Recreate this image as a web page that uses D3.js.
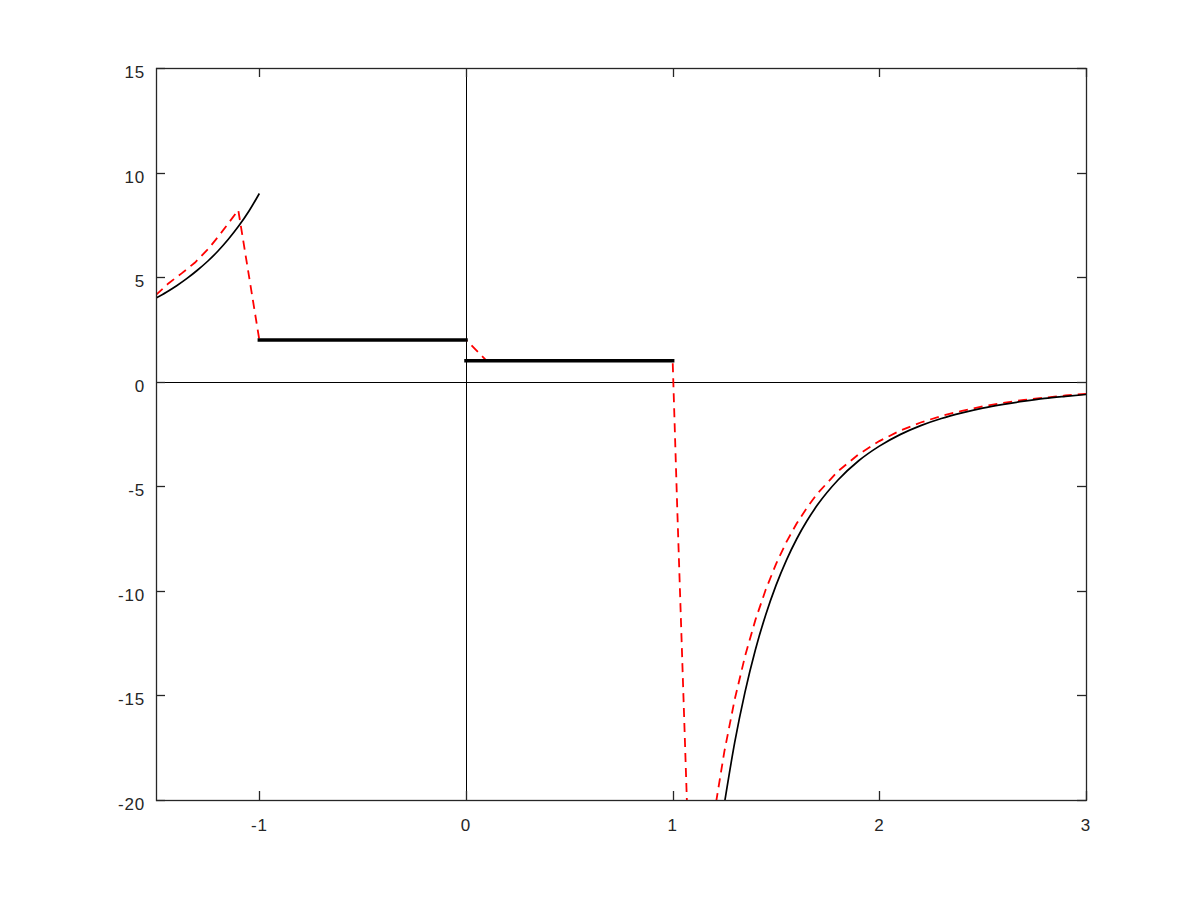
<!DOCTYPE html>
<html>
<head>
<meta charset="utf-8">
<script src="https://cdn.jsdelivr.net/npm/d3@7"></script>
<style>
  html, body { margin: 0; padding: 0; background: #fff; }
  svg { display: block; }
  text { font-family: "Liberation Sans", Arial, Helvetica, sans-serif; }
</style>
</head>
<body>
<div id="chart"></div>
<script>
// ---- data ----
const xDomain = [-1.5, 3];
const yDomain = [-20, 15];
const xTicks = [-1, 0, 1, 2, 3];
const yTicks = [-20, -15, -10, -5, 0, 5, 10, 15];

// exact function, left branch (x < -1)
const blackLeftX = [-1.5, -1.45, -1.4, -1.35, -1.3, -1.25, -1.2, -1.15, -1.1, -1.05, -1.0];
const blackLeftY = [4.00, 4.28, 4.59, 4.94, 5.33, 5.76, 6.25, 6.81, 7.44, 8.16, 9.0];

// exact function, constant pieces
const stepX0 = [-1, 0];
const stepX1 = [0, 1];
const stepY = [2, 1];

// exact function, right branch (x > 1)
const blackRightX = [1.25, 1.30, 1.35, 1.40, 1.45, 1.50, 1.55, 1.60, 1.65, 1.70, 1.80, 1.90,
                     2.00, 2.10, 2.20, 2.30, 2.40, 2.50, 2.60, 2.70, 2.80, 2.90, 3.00];
const blackRightY = [-20.19, -17.26, -14.84, -12.83, -11.15, -9.74, -8.54, -7.52, -6.65, -5.90, -4.70, -3.78,
                     -3.08, -2.53, -2.10, -1.76, -1.49, -1.26, -1.08, -0.93, -0.80, -0.70, -0.61];

// approximation (red dashed): left, steps, drop, right branch
const redX = [-1.5, -1.440, -1.376, -1.311, -1.247, -1.199, -1.150, -1.102, -1.0,
              0, 0.1, 1.0, 1.022, 1.09, 1.15,
              1.20, 1.25, 1.30, 1.35, 1.40, 1.45, 1.50, 1.55, 1.60, 1.65, 1.70, 1.80, 1.90,
              2.00, 2.10, 2.20, 2.30, 2.40, 2.50, 2.60, 2.70, 2.80, 2.90, 3.00];
const redY = [4.15, 4.70, 5.18, 5.70, 6.35, 6.94, 7.57, 8.21, 2.0,
              2.0, 1.0, 1.0, -6.0, -26.4, -23.5,
              -20.72, -17.69, -15.20, -13.13, -11.40, -9.95, -8.72, -7.67, -6.78, -6.02, -5.35, -4.28, -3.47,
              -2.84, -2.34, -1.95, -1.64, -1.39, -1.18, -1.01, -0.87, -0.76, -0.66, -0.58];

// ---- layout ----
const W = 1200, H = 898;
const margin = { left: 156, top: 68, right: 114, bottom: 98 };
const iw = W - margin.left - margin.right;
const ih = H - margin.top - margin.bottom;
const axisColor = "#262626";
const tickLen = 9;
const fontSize = 17;

const svg = d3.select("#chart").append("svg").attr("width", W).attr("height", H);
const g = svg.append("g").attr("transform", `translate(${margin.left},${margin.top})`);

const x = d3.scaleLinear().domain(xDomain).range([0, iw]);
const y = d3.scaleLinear().domain(yDomain).range([ih, 0]);

svg.append("defs").append("clipPath").attr("id", "clip")
  .append("rect").attr("x", 0).attr("y", 0).attr("width", iw).attr("height", ih);

const plot = g.append("g").attr("clip-path", "url(#clip)");

// zero lines
plot.append("line")
  .attr("x1", Math.round(x(0)) + 0.5).attr("x2", Math.round(x(0)) + 0.5)
  .attr("y1", 0).attr("y2", ih)
  .attr("stroke", "#000").attr("stroke-width", 1);
plot.append("line")
  .attr("x1", 0).attr("x2", iw)
  .attr("y1", Math.round(y(0)) + 0.5).attr("y2", Math.round(y(0)) + 0.5)
  .attr("stroke", "#000").attr("stroke-width", 1);

const zip = (xs, ys) => xs.map((v, i) => [v, ys[i]]);
const smooth = d3.line().x(d => x(d[0])).y(d => y(d[1])).curve(d3.curveMonotoneX);
const straight = d3.line().x(d => x(d[0])).y(d => y(d[1]));

// red dashed approximation (drawn first, black on top)
plot.append("path").attr("d", straight(zip(redX, redY)))
  .attr("fill", "none").attr("stroke", "#ff0000").attr("stroke-width", 1.8)
  .attr("stroke-dasharray", "9,6");

// black curves
plot.append("path").attr("d", smooth(zip(blackLeftX, blackLeftY)))
  .attr("fill", "none").attr("stroke", "#000").attr("stroke-width", 1.7);
plot.append("path").attr("d", smooth(zip(blackRightX, blackRightY)))
  .attr("fill", "none").attr("stroke", "#000").attr("stroke-width", 1.7);

// thick constant pieces
[stepX0, stepX1].forEach((xs, i) => {
  plot.append("path").attr("d", straight(xs.map(v => [v, stepY[i]])))
    .attr("fill", "none").attr("stroke", "#000").attr("stroke-width", 3.5)
    .attr("stroke-linecap", "square");
});

// ---- frame and ticks ----
const frame = g.append("g");
frame.append("rect").attr("x", 0.5).attr("y", 0.5).attr("width", iw).attr("height", ih)
  .attr("fill", "none").attr("stroke", axisColor).attr("stroke-width", 1.3);

xTicks.forEach(t => {
  const px = Math.round(x(t)) + 0.5;
  frame.append("line").attr("x1", px).attr("x2", px).attr("y1", ih).attr("y2", ih - tickLen)
    .attr("stroke", axisColor).attr("stroke-width", 1.3);
  frame.append("line").attr("x1", px).attr("x2", px).attr("y1", 0).attr("y2", tickLen)
    .attr("stroke", axisColor).attr("stroke-width", 1.3);
  frame.append("text").attr("x", x(t)).attr("y", ih + 31)
    .attr("text-anchor", "middle").attr("font-size", fontSize).attr("fill", axisColor)
    .attr("letter-spacing", "0.8px")
    .text(String(t));
});

yTicks.forEach(t => {
  const py = Math.round(y(t)) + 0.5;
  frame.append("line").attr("x1", 0).attr("x2", tickLen).attr("y1", py).attr("y2", py)
    .attr("stroke", axisColor).attr("stroke-width", 1.3);
  frame.append("line").attr("x1", iw).attr("x2", iw - tickLen).attr("y1", py).attr("y2", py)
    .attr("stroke", axisColor).attr("stroke-width", 1.3);
  frame.append("text").attr("x", -11).attr("y", y(t) + 10)
    .attr("text-anchor", "end").attr("font-size", fontSize).attr("fill", axisColor)
    .attr("letter-spacing", "0.8px")
    .text(String(t));
});
</script>
</body>
</html>
